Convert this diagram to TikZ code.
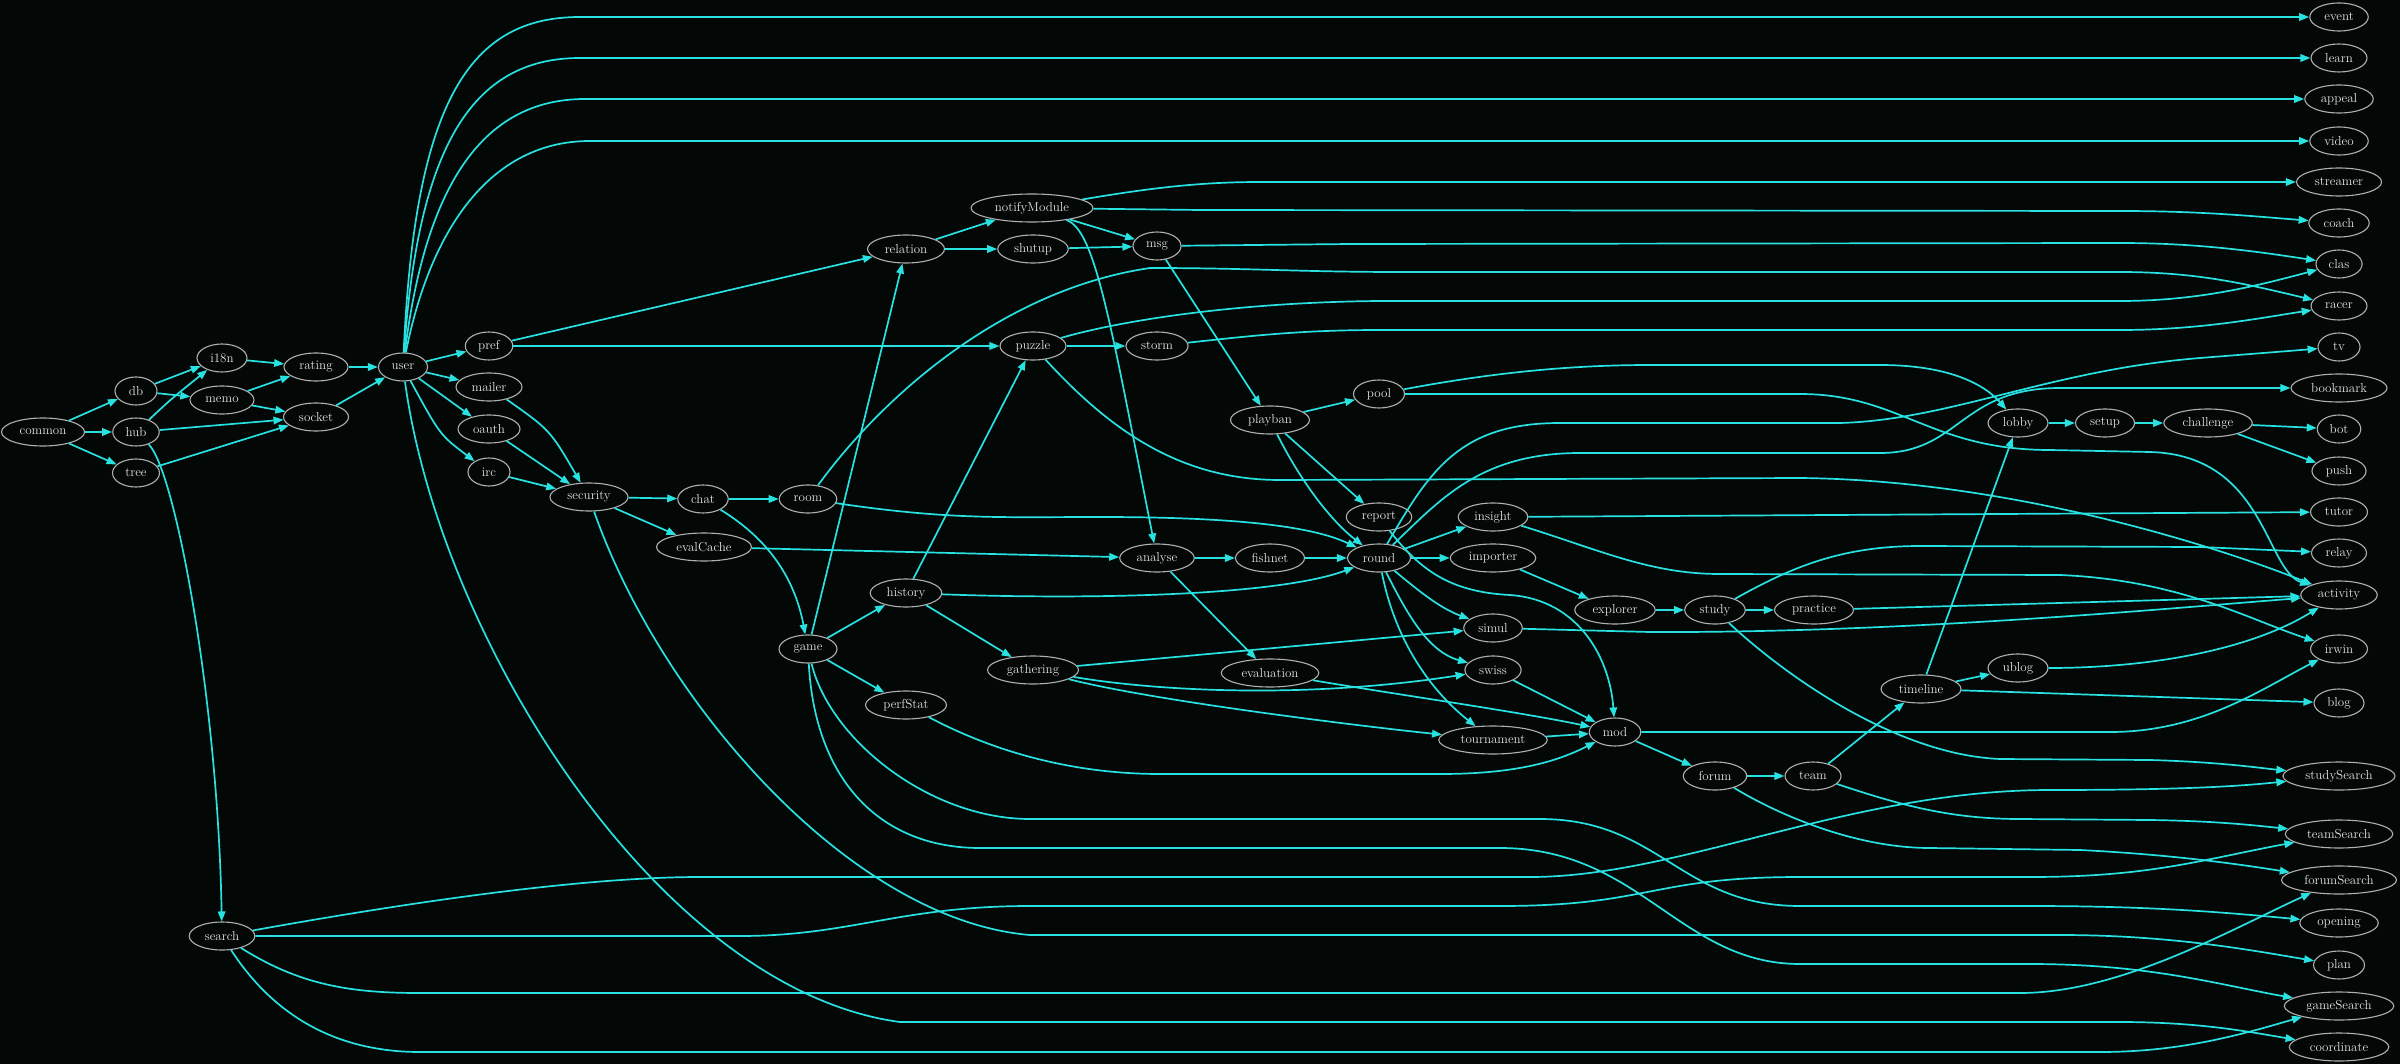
\documentclass[tikz,border=0pt]{standalone}
\usepackage{fontspec}
\usetikzlibrary{shapes.geometric,arrows.meta}
\definecolor{bgc}{RGB}{3,8,6}
\definecolor{edgec}{RGB}{40,226,226}
\definecolor{nodeb}{RGB}{175,175,175}
\definecolor{textc}{RGB}{228,228,228}
\begin{document}
\begin{tikzpicture}[x=1pt,y=-1pt,
  nd/.style={ellipse, draw=nodeb, line width=1.1pt, text=textc,
    font=\fontsize{13}{15}\selectfont, inner xsep=6pt, inner ysep=2pt,
    minimum width=42pt, minimum height=28pt},
  ed/.style={draw=edgec, line width=1.7pt, -{Triangle[length=10pt,width=7.5pt]}}]
\path[use as bounding box, fill=bgc] (0,0) rectangle (2400,1064);
% nodes
\node[nd] (common) at (43,432) {common};
\node[nd] (db) at (136,391) {db};
\node[nd] (hub) at (136,432) {hub};
\node[nd] (tree) at (136,473) {tree};
\node[nd] (i18n) at (222,358) {i18n};
\node[nd] (memo) at (222,400) {memo};
\node[nd] (rating) at (316,367) {rating};
\node[nd] (socket) at (316,417) {socket};
\node[nd] (user) at (403,367) {user};
\node[nd] (pref) at (489,346) {pref};
\node[nd] (mailer) at (489,387) {mailer};
\node[nd] (oauth) at (489,429) {oauth};
\node[nd] (irc) at (489,472) {irc};
\node[nd] (security) at (589,497) {security};
\node[nd] (search) at (222,936) {search};
\node[nd] (chat) at (703,499) {chat};
\node[nd] (room) at (808,499) {room};
\node[nd] (evalCache) at (704,547) {evalCache};
\node[nd] (game) at (808,649) {game};
\node[nd] (relation) at (906,249) {relation};
\node[nd] (history) at (906,593) {history};
\node[nd] (perfStat) at (906,705) {perfStat};
\node[nd] (notifyModule) at (1032,208) {notifyModule};
\node[nd] (shutup) at (1033,249) {shutup};
\node[nd] (puzzle) at (1033,346) {puzzle};
\node[nd] (gathering) at (1033,670) {gathering};
\node[nd] (msg) at (1157,246) {msg};
\node[nd] (storm) at (1157,346) {storm};
\node[nd] (analyse) at (1157,558) {analyse};
\node[nd] (playban) at (1270,420) {playban};
\node[nd] (fishnet) at (1270,558) {fishnet};
\node[nd] (evaluation) at (1270,673) {evaluation};
\node[nd] (pool) at (1379,394) {pool};
\node[nd] (report) at (1379,517) {report};
\node[nd] (round) at (1379,558) {round};
\node[nd] (insight) at (1493,517) {insight};
\node[nd] (importer) at (1493,558) {importer};
\node[nd] (simul) at (1493,628) {simul};
\node[nd] (swiss) at (1493,670) {swiss};
\node[nd] (tournament) at (1493,740) {tournament};
\node[nd] (explorer) at (1615,610) {explorer};
\node[nd] (mod) at (1615,732) {mod};
\node[nd] (study) at (1715,610) {study};
\node[nd] (forum) at (1715,776) {forum};
\node[nd] (practice) at (1814,610) {practice};
\node[nd] (team) at (1813,776) {team};
\node[nd] (timeline) at (1921,689) {timeline};
\node[nd] (lobby) at (2018,423) {lobby};
\node[nd] (ublog) at (2018,668) {ublog};
\node[nd] (setup) at (2105,423) {setup};
\node[nd] (challenge) at (2208,423) {challenge};
\node[nd] (event) at (2339,17) {event};
\node[nd] (learn) at (2339,58) {learn};
\node[nd] (appeal) at (2339,99) {appeal};
\node[nd] (video) at (2339,141) {video};
\node[nd] (streamer) at (2339,182) {streamer};
\node[nd] (coach) at (2339,223) {coach};
\node[nd] (clas) at (2339,264) {clas};
\node[nd] (racer) at (2339,306) {racer};
\node[nd] (tv) at (2339,347) {tv};
\node[nd] (bookmark) at (2339,388) {bookmark};
\node[nd] (bot) at (2339,429) {bot};
\node[nd] (push) at (2339,471) {push};
\node[nd] (tutor) at (2339,512) {tutor};
\node[nd] (relay) at (2339,553) {relay};
\node[nd] (activity) at (2339,595) {activity};
\node[nd] (irwin) at (2339,649) {irwin};
\node[nd] (blog) at (2339,703) {blog};
\node[nd] (studySearch) at (2339,776) {studySearch};
\node[nd] (teamSearch) at (2339,834) {teamSearch};
\node[nd] (forumSearch) at (2339,880) {forumSearch};
\node[nd] (opening) at (2339,923) {opening};
\node[nd] (plan) at (2339,965) {plan};
\node[nd] (gameSearch) at (2339,1006) {gameSearch};
\node[nd] (coordinate) at (2339,1047) {coordinate};
% edges
\draw[ed] (common) -- (db);
\draw[ed] (common) -- (hub);
\draw[ed] (common) -- (tree);
\draw[ed] (db) -- (i18n);
\draw[ed] (db) -- (memo);
\draw[ed] (hub) .. controls (170,400) .. (i18n);
\draw[ed] (hub) -- (socket);
\draw[ed] (hub) .. controls (175,470) and (218,700) .. (search);
\draw[ed] (tree) -- (socket);
\draw[ed] (i18n) -- (rating);
\draw[ed] (memo) -- (rating);
\draw[ed] (memo) -- (socket);
\draw[ed] (rating) -- (user);
\draw[ed] (socket) -- (user);
\draw[ed] (user) .. controls (415,100) and (470,17) .. (580,17) -- (event);
\draw[ed] (user) .. controls (418,150) and (470,58) .. (580,58) -- (learn);
\draw[ed] (user) .. controls (425,190) and (480,99) .. (585,99) -- (appeal);
\draw[ed] (user) .. controls (430,230) and (490,141) .. (590,141) -- (video);
\draw[ed] (user) -- (pref);
\draw[ed] (user) -- (mailer);
\draw[ed] (user) -- (oauth);
\draw[ed] (user) .. controls (440,435) .. (irc);
\draw[ed] (user) .. controls (440,640) and (660,990) .. (900,1022) -- (2120,1022) .. controls (2200,1022) and (2250,1032) .. (coordinate);
\draw[ed] (pref) -- (relation);
\draw[ed] (pref) -- (puzzle);
\draw[ed] (mailer) .. controls (550,430) .. (security);
\draw[ed] (oauth) -- (security);
\draw[ed] (irc) -- (security);
\draw[ed] (security) -- (chat);
\draw[ed] (security) -- (evalCache);
\draw[ed] (security) .. controls (660,700) and (850,920) .. (1030,935) -- (2060,935) .. controls (2170,935) and (2250,950) .. (plan);
\draw[ed] (chat) -- (room);
\draw[ed] (chat) .. controls (770,540) and (795,580) .. (game);
\draw[ed] (room) .. controls (880,400) and (1000,290) .. (1150,268) .. controls (1250,268) and (1300,272) .. (1400,272) -- (2120,272) .. controls (2200,272) and (2250,285) .. (racer);
\draw[ed] (room) .. controls (950,520) and (1000,517) .. (1100,517) .. controls (1260,517) and (1320,530) .. (round);
\draw[ed] (evalCache) -- (analyse);
\draw[ed] (game) -- (relation);
\draw[ed] (game) -- (history);
\draw[ed] (game) -- (perfStat);
\draw[ed] (game) .. controls (830,740) and (930,819) .. (1030,819) -- (1540,819) .. controls (1660,819) and (1680,906) .. (1800,906) -- (2030,906) .. controls (2150,906) and (2220,912) .. (opening);
\draw[ed] (game) .. controls (815,780) and (880,848) .. (980,848) -- (1500,848) .. controls (1640,848) and (1680,964) .. (1800,964) -- (2030,964) .. controls (2150,964) and (2220,985) .. (gameSearch);
\draw[ed] (relation) -- (notifyModule);
\draw[ed] (relation) -- (shutup);
\draw[ed] (notifyModule) .. controls (1150,188) and (1200,182) .. (1260,182) -- (streamer);
\draw[ed] (notifyModule) -- (1200,210) -- (2120,211) .. controls (2200,211) and (2250,216) .. (coach);
\draw[ed] (notifyModule) -- (msg);
\draw[ed] (notifyModule) .. controls (1095,230) and (1110,320) .. (analyse);
\draw[ed] (shutup) -- (msg);
\draw[ed] (msg) -- (1350,244) -- (2120,243) .. controls (2200,243) and (2260,252) .. (clas);
\draw[ed] (msg) -- (playban);
\draw[ed] (puzzle) -- (storm);
\draw[ed] (puzzle) .. controls (1130,318) and (1250,302) .. (1380,301) -- (2120,301) .. controls (2200,301) and (2260,285) .. (clas);
\draw[ed] (puzzle) .. controls (1110,430) and (1180,480) .. (1280,480) -- (1800,478) .. controls (2000,480) and (2200,540) .. (activity);
\draw[ed] (storm) .. controls (1250,336) and (1300,330) .. (1380,330) -- (2120,330) .. controls (2200,330) and (2260,318) .. (racer);
\draw[ed] (history) -- (puzzle);
\draw[ed] (history) .. controls (1100,600) and (1280,595) .. (round);
\draw[ed] (history) -- (gathering);
\draw[ed] (analyse) -- (fishnet);
\draw[ed] (analyse) -- (evaluation);
\draw[ed] (fishnet) -- (round);
\draw[ed] (playban) -- (pool);
\draw[ed] (playban) -- (report);
\draw[ed] (playban) .. controls (1300,480) and (1330,520) .. (round);
\draw[ed] (pool) .. controls (1480,375) and (1560,365) .. (1650,365) -- (1880,365) .. controls (1950,365) and (1985,385) .. (lobby);
\draw[ed] (pool) -- (1800,394) .. controls (1900,394) and (1930,450) .. (2050,450) -- (2150,452) .. controls (2265,455) and (2265,570) .. (activity);
\draw[ed] (report) .. controls (1420,570) and (1450,592) .. (1510,595) .. controls (1580,600) and (1610,660) .. (mod);
\draw[ed] (round) .. controls (1430,470) and (1460,423) .. (1560,423) -- (1840,423) .. controls (1950,420) and (2050,370) .. (2200,358) -- (tv);
\draw[ed] (round) .. controls (1440,500) and (1480,453) .. (1580,453) -- (1880,453) .. controls (1960,453) and (1960,388) .. (2060,388) -- (bookmark);
\draw[ed] (round) -- (insight);
\draw[ed] (round) -- (importer);
\draw[ed] (round) .. controls (1420,592) and (1440,608) .. (simul);
\draw[ed] (round) .. controls (1410,620) and (1430,652) .. (swiss);
\draw[ed] (round) .. controls (1395,640) and (1430,690) .. (tournament);
\draw[ed] (gathering) -- (simul);
\draw[ed] (gathering) .. controls (1150,690) and (1300,700) .. (swiss);
\draw[ed] (gathering) .. controls (1150,700) and (1350,725) .. (tournament);
\draw[ed] (evaluation) .. controls (1400,695) and (1520,712) .. (mod);
\draw[ed] (perfStat) .. controls (1000,755) and (1080,774) .. (1160,774) -- (1440,774) .. controls (1520,774) and (1560,760) .. (mod);
\draw[ed] (simul) -- (1650,632) .. controls (1900,633) and (2150,610) .. (activity);
\draw[ed] (swiss) -- (mod);
\draw[ed] (tournament) -- (mod);
\draw[ed] (insight) -- (tutor);
\draw[ed] (insight) .. controls (1600,550) and (1650,574) .. (1720,574) -- (2060,575) .. controls (2180,580) and (2250,620) .. (irwin);
\draw[ed] (importer) -- (explorer);
\draw[ed] (explorer) -- (study);
\draw[ed] (study) -- (practice);
\draw[ed] (study) .. controls (1790,568) and (1840,546) .. (1920,546) -- (2200,547) -- (relay);
\draw[ed] (study) .. controls (1790,680) and (1900,755) .. (2000,759) -- (2150,760) .. controls (2220,762) and (2260,768) .. (studySearch);
\draw[ed] (practice) -- (activity);
\draw[ed] (mod) -- (2110,732) .. controls (2200,732) and (2260,690) .. (irwin);
\draw[ed] (mod) -- (forum);
\draw[ed] (forum) -- (team);
\draw[ed] (forum) .. controls (1770,810) and (1850,848) .. (1930,848) -- (2080,850) .. controls (2180,855) and (2250,866) .. (forumSearch);
\draw[ed] (team) -- (timeline);
\draw[ed] (team) .. controls (1900,805) and (1950,819) .. (2020,819) -- (2150,820) .. controls (2220,821) and (2260,826) .. (teamSearch);
\draw[ed] (timeline) -- (lobby);
\draw[ed] (timeline) -- (ublog);
\draw[ed] (timeline) -- (blog);
\draw[ed] (ublog) .. controls (2150,668) and (2250,650) .. (activity);
\draw[ed] (lobby) -- (setup);
\draw[ed] (setup) -- (challenge);
\draw[ed] (challenge) -- (bot);
\draw[ed] (challenge) -- (push);
\draw[ed] (search) .. controls (450,895) and (600,877) .. (700,877) -- (1530,877) .. controls (1680,877) and (1850,790) .. (2050,790) .. controls (2200,790) and (2250,785) .. (studySearch);
\draw[ed] (search) -- (740,936) .. controls (850,936) and (900,906) .. (1030,906) -- (1500,906) .. controls (1650,906) and (1650,877) .. (1800,877) -- (2030,877) .. controls (2150,877) and (2200,860) .. (teamSearch);
\draw[ed] (search) .. controls (300,985) and (350,993) .. (420,993) -- (2020,993) .. controls (2120,993) and (2230,930) .. (forumSearch);
\draw[ed] (search) .. controls (270,1010) and (330,1052) .. (420,1052) -- (2100,1052) .. controls (2180,1052) and (2240,1035) .. (gameSearch);
\end{tikzpicture}
\end{document}
